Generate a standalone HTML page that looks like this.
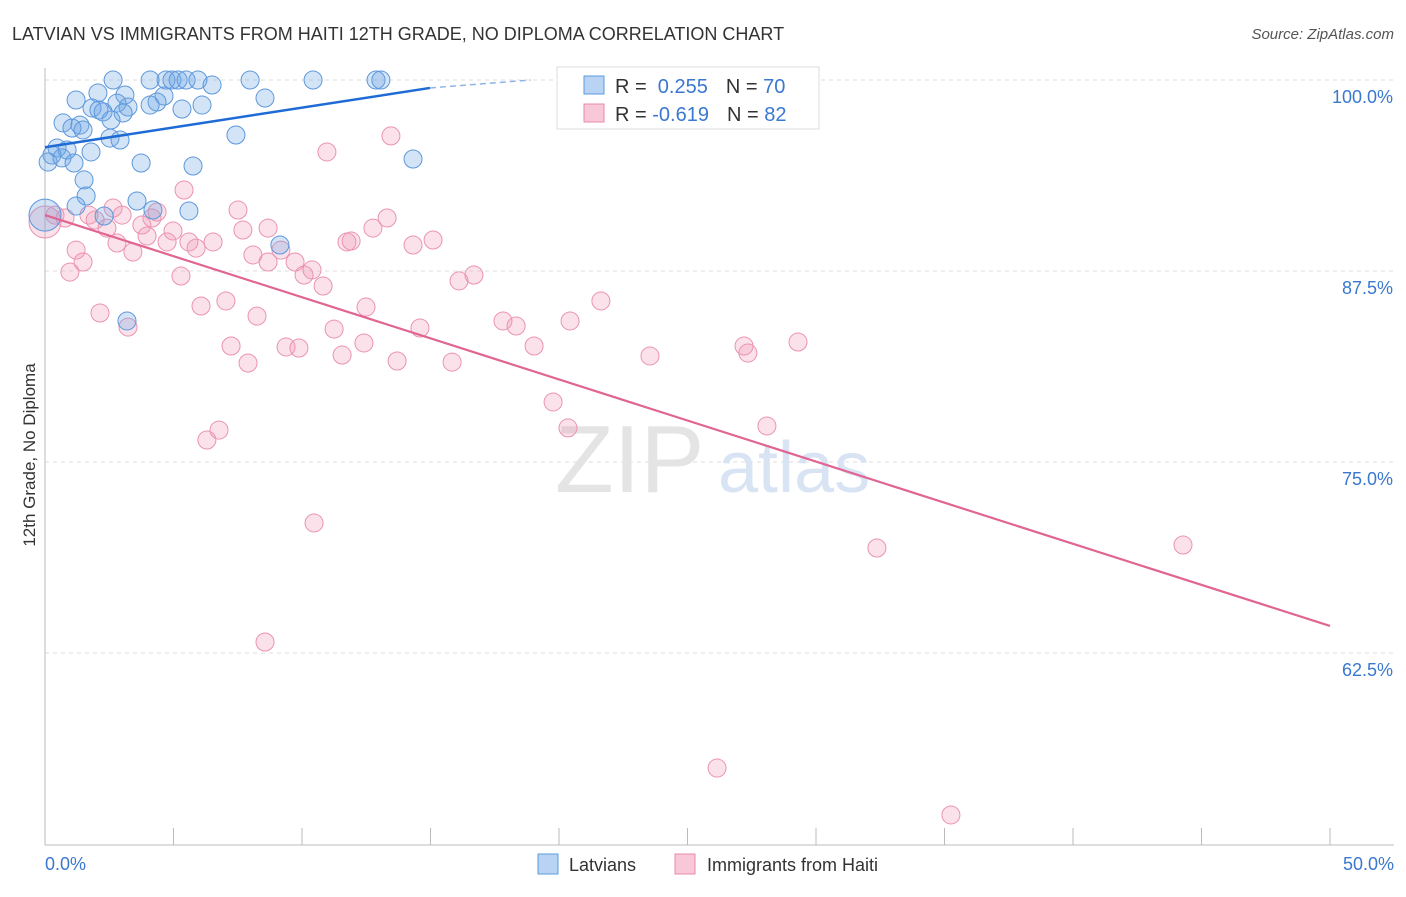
<!DOCTYPE html>
<html><head><meta charset="utf-8"><style>
body{margin:0;background:#fff;font-family:"Liberation Sans",sans-serif}
svg text{font-family:"Liberation Sans",sans-serif}
</style></head><body>
<svg id="c" width="1406" height="892">
<text x="12" y="40" font-size="18" fill="#333">LATVIAN VS IMMIGRANTS FROM HAITI 12TH GRADE, NO DIPLOMA CORRELATION CHART</text>
<text x="1394" y="39" font-size="15" fill="#555" text-anchor="end" font-style="italic">Source: ZipAtlas.com</text>
<text x="35" y="455" font-size="17" fill="#333" text-anchor="middle" transform="rotate(-90 35 455)">12th Grade, No Diploma</text>
<g id="grid"></g>
<text x="555" y="492" font-size="96" fill="#e4e4e4" font-family="Liberation Serif">ZIP</text>
<text x="718" y="492" font-size="72" fill="#d8e4f4">atlas</text>
<g id="pts"></g>
<g id="lines"></g>
<g>
<rect x="557" y="67" width="262" height="62" fill="#fff" stroke="#ddd"/>
<rect x="584" y="76" width="20" height="18" fill="#b8d3f4" stroke="#5b9be0"/>
<rect x="584" y="104" width="20" height="18" fill="#f8c8d8" stroke="#e88aa8"/>
<text x="615" y="93" font-size="20" fill="#333">R = <tspan fill="#3a78d0">&#160;0.255</tspan><tspan dx="18">N = </tspan><tspan fill="#3a78d0">70</tspan></text>
<text x="615" y="121" font-size="20" fill="#333">R = <tspan fill="#3a78d0">-0.619</tspan><tspan dx="18">N = </tspan><tspan fill="#3a78d0">82</tspan></text>
</g>
<g>
<rect x="538" y="854" width="20" height="20" fill="#b8d3f4" stroke="#5b9be0"/>
<text x="569" y="871" font-size="18" fill="#333">Latvians</text>
<rect x="675" y="854" width="20" height="20" fill="#f8c8d8" stroke="#e88aa8"/>
<text x="707" y="871" font-size="18" fill="#333">Immigrants from Haiti</text>
</g>
</svg>
<script>
const xTicks=[0,5,10,15,20,25,30,35,40,45,50];
const yTicks=[100,87.5,75,62.5];
const yTickLabels=["100.0%","87.5%","75.0%","62.5%"];
const blueX=[2.65,4.09,4.71,4.94,5.18,5.49,5.95,7.98,10.43,12.88,13.07,6.5,2.06,3.11,1.21,4.63,8.56,2.8,1.83,3.23,4.36,4.09,2.1,2.26,3.04,5.33,6.11,0.7,1.36,1.05,2.57,1.48,7.43,2.53,2.92,1.79,0.47,0.86,0.27,0.12,0.66,1.13,3.74,5.76,14.32,1.52,1.6,3.58,1.21,5.6,2.3,4.2,9.14,3.19,0];
const blueY=[100,100,100,100,100,100,100,100,100,100,100,99.67,99.15,99.02,98.69,98.95,98.82,98.49,98.17,98.23,98.56,98.36,98.04,97.91,97.84,98.1,98.36,97.19,97.05,96.86,97.38,96.73,96.4,96.2,96.07,95.29,95.55,95.42,95.09,94.63,94.9,94.57,94.57,94.37,94.83,93.46,92.41,92.08,91.75,91.43,91.1,91.49,89.2,84.23,91.16];
const pinkX=[0,0.39,0.78,1.71,1.95,2.65,3.0,4.16,4.36,5.41,7.51,8.68,7.7,10.97,13.31,13.46,12.76,1.21,1.48,0.97,2.41,2.8,3.42,3.77,3.97,4.75,4.98,5.6,5.88,6.54,8.09,8.68,9.18,9.73,10.08,10.39,10.82,11.75,11.91,14.32,15.1,16.11,16.69,5.29,6.07,7.04,8.25,2.14,3.23,11.25,12.49,14.59,17.82,18.33,20.43,21.63,7.24,7.9,9.38,9.88,11.56,12.41,13.7,15.84,19.03,23.54,27.2,27.35,29.3,6.3,6.77,19.77,20.35,28.09,10.47,32.37,44.28,8.56,26.15,35.25];
const pinkY=[90.71,91.16,90.97,91.16,90.84,91.62,91.16,90.97,91.36,92.8,91.49,90.31,90.18,95.29,90.97,96.34,90.31,88.87,88.09,87.43,90.31,89.33,88.74,90.51,89.79,89.4,90.12,89.4,89.0,89.4,88.55,88.09,88.87,88.09,87.24,87.57,86.52,89.4,89.46,89.2,89.53,86.85,87.24,87.17,85.21,85.54,84.55,84.75,83.83,83.7,85.14,83.77,84.23,83.9,84.23,85.54,82.59,81.48,82.53,82.46,82.0,82.79,81.61,81.54,82.59,81.94,82.59,82.13,82.85,76.44,77.09,78.93,77.23,77.36,71.01,69.37,69.57,63.22,54.97,51.9];
const blueTrend=[[0,95.6],[14.98,99.48],[18.9,100]];
const pinkTrend=[[0,91.16],[50,64.27]];
const X=v=>45+v*25.7, Y=v=>80+(100-v)*15.28;
const NS="http://www.w3.org/2000/svg";
function mk(t,a,p){const e=document.createElementNS(NS,t);for(const k in a)e.setAttribute(k,a[k]);p.appendChild(e);return e;}
const g=document.getElementById('grid');
yTicks.forEach((t,i)=>{
 const l=mk('line',{x1:45,x2:1394,y1:Y(t),y2:Y(t),stroke:'#ddd','stroke-dasharray':'4,4'},g);
 
 
 const tx=mk('text',{x:1393,y:Y(t)+23,'font-size':18,fill:'#3a78d0','text-anchor':'end'},g);
 tx.textContent=yTickLabels[i];
 
 
});
mk('line',{x1:45,x2:45,y1:68,y2:845,stroke:'#bbb'},g);
mk('line',{x1:45,x2:1394,y1:845,y2:845,stroke:'#bbb'},g);
xTicks.forEach(t=>{const l=mk('line',{x1:X(t),x2:X(t),y1:828,y2:845,stroke:'#bbb'},g);
 
 });
[[0,"0.0%","start",45],[50,"50.0%","end",1394]].forEach(d=>{const t=mk('text',{x:d[3],y:870,'font-size':18,fill:'#3a78d0','text-anchor':d[2]},g);t.textContent=d[1];
 
 });
const P=document.getElementById('pts');
function dots(xs,ys,fill,stroke,name){xs.forEach((x,i)=>{const big=(x===0&&i===xs.length-1&&name==='latvian')||(x===0&&i===0&&name==='haiti');
 const c=mk('circle',{cx:X(x),cy:Y(ys[i]),r:big?16:9,fill:fill,stroke:stroke,'stroke-width':1},P);
 
 });}
dots(pinkX,pinkY,'rgba(240,150,180,0.28)','#eb93b0','haiti');
dots(blueX,blueY,'rgba(110,165,230,0.3)','#5d98dc','latvian');
const L=document.getElementById('lines');
const b1=mk('line',{x1:X(blueTrend[0][0]),y1:Y(blueTrend[0][1]),x2:X(blueTrend[1][0]),y2:Y(blueTrend[1][1]),stroke:'#1f6bd6','stroke-width':2.5},L);


const b2=mk('line',{x1:X(blueTrend[1][0]),y1:Y(blueTrend[1][1]),x2:X(blueTrend[2][0]),y2:Y(blueTrend[2][1]),stroke:'#8fb4e8','stroke-width':1.5,'stroke-dasharray':'6,4'},L);


const p1=mk('line',{x1:X(pinkTrend[0][0]),y1:Y(pinkTrend[0][1]),x2:X(pinkTrend[1][0]),y2:Y(pinkTrend[1][1]),stroke:'#e06592','stroke-width':2.2},L);


</script>
</body></html>
